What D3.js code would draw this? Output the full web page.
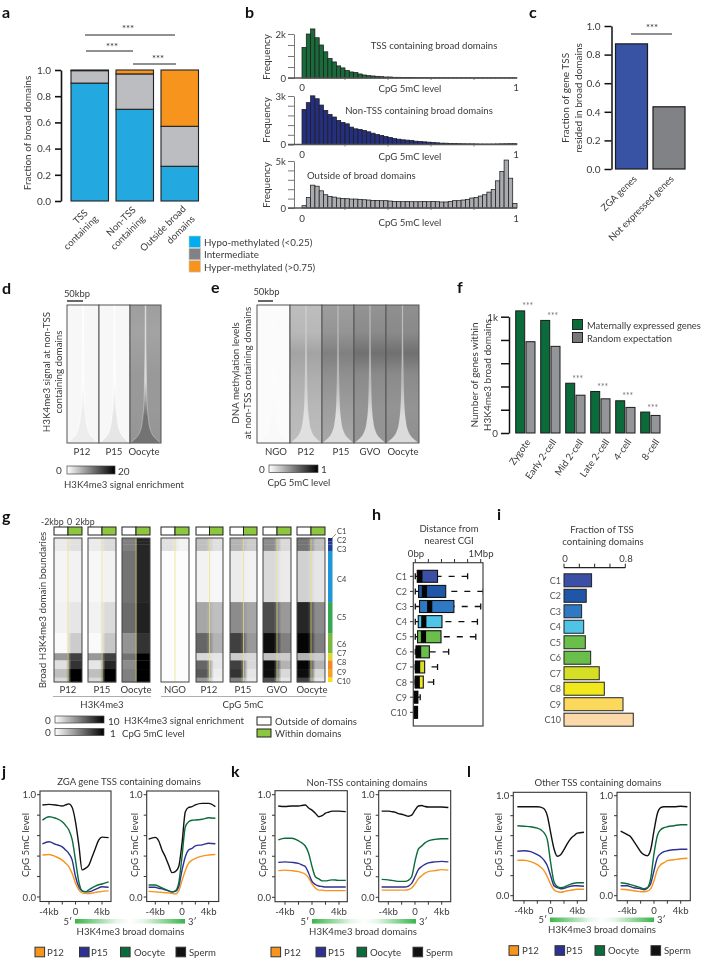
<!DOCTYPE html>
<html><head><meta charset="utf-8">
<script src="https://cdn.jsdelivr.net/npm/d3@7"></script>
<style>
html,body{margin:0;padding:0;background:#fff}
svg{display:block;filter:blur(0.4px)}
text{font-family:Lato,"Open Sans",sans-serif;font-size:10px;fill:#3a3a3a}
.letter{font-weight:700;font-size:16px;fill:#111}
</style></head><body>
<svg id="c" width="705" height="960"></svg>
<script>
// ---------- panel a
const aCategories=[["TSS","containing"],["Non-TSS","containing"],["Outside broad","domains"]];
const aHypo=[0.90,0.70,0.265];
const aInter=[0.095,0.27,0.305];
const aHyper=[0.005,0.03,0.43];
const aColors=["#24a8e0","#bcbdc0","#f7941e"];
const aLegend=["Hypo-methylated (<0.25)","Intermediate","Hyper-methylated (>0.75)"];
const aLegendColors=["#00aeef","#808285","#f7941e"];
// ---------- panel b
const histTss=[1390,2000,2230,1830,1500,1190,890,730,550,460,340,275,245,183,137,107,92,76,61,46,46,31,31,25,20,18,16,15,14,13,12,12,11,11,10,10,10,9,9,9,8,8,8,8,8,7,7,7,7,7];
const histNon=[2170,2590,3010,2830,2440,2110,1860,1700,1490,1365,1280,1075,970,930,870,785,700,620,560,495,435,370,330,290,270,250,205,185,165,145,125,105,85,80,65,60,50,45,40,40,35,30,30,30,30,35,40,45,50,50];
const histOut=[250,1130,2430,2320,1830,1410,1230,1160,1060,1020,990,950,950,920,880,850,810,810,780,780,740,700,700,670,700,670,670,670,700,670,700,670,640,640,700,780,780,850,920,1060,1130,1270,1410,1690,1970,2890,3870,5100,3170,490];
// ---------- panel c
const cCategories=["ZGA genes","Not expressed genes"];
const cValues=[0.875,0.435];
const cColors=["#3953a4","#808285"];
// ---------- panel f
const fCategories=["Zygote","Early 2-cell","Mid 2-cell","Late 2-cell","4-cell","8-cell"];
const fMaternal=[1050,968,428,357,277,180];
const fRandom=[785,745,325,294,220,151];
// ---------- panels d, e: heat summaries (row fraction, tail half width, greys)
const tailRows=[0,0.3,0.55,0.7,0.78,0.84,0.9,0.96,0.985,1];
const tailWidth=[0.015,0.018,0.035,0.05,0.07,0.1,0.15,0.29,0.41,0.49];
const bgRows=[0,0.2,0.35,0.5,0.75,1];
const dNames=["P12","P15","Oocyte"];
const dBackground=[[.03,.03,.03,.03,.03,.03],[.03,.03,.03,.03,.03,.03],[.38,.36,.38,.4,.4,.42]];
const dTailTop=[.01,.01,.14];
const dTailBottom=[.07,.1,.55];
const eNames=["NGO","P12","P15","GVO","Oocyte"];
const eBackground=[[.015,.015,.015,.015,.015,.015],[.26,.28,.36,.32,.28,.26],[.38,.42,.5,.44,.38,.34],[.42,.46,.56,.46,.42,.42],[.44,.46,.56,.46,.42,.44]];
const eTailTop=[.012,.2,.28,.28,.28];
const eTailBottom=[.025,.12,.13,.14,.14];
// ---------- panel g
const gClusters=["C1","C2","C3","C4","C5","C6","C7","C8","C9","C10"];
const gClusterEnds=[0.025,0.045,0.09,0.445,0.66,0.80,0.85,0.91,0.97,1];
const gSideColors=["#1c2a78","#1f3a96","#20409c","#1e96d8","#35a853","#7cb83e","#d8d830","#f08a28","#f6a028","#f0e020"];
const gNames=["P12","P15","Oocyte","NGO","P12","P15","GVO","Oocyte"];
const gLeft=[
 [.08,.08,.08,.04,.05,.02,.4,.12,.25,.15],
 [.08,.08,.08,.03,.05,.02,.4,.1,.25,.15],
 [.5,.5,.5,.55,.58,.42,.55,.45,.5,.5],
 [.12,.12,.12,.01,.01,.01,.01,.01,.01,.01],
 [.25,.25,.25,.05,.35,.6,.15,.6,.65,.4],
 [.3,.3,.3,.08,.45,.75,.2,.75,.8,.5],
 [.45,.45,.45,.15,.7,.95,.25,.95,.95,.7],
 [.55,.55,.55,.18,.85,.98,.3,.98,.95,.75]];
const gRight=[
 [.12,.12,.12,.05,.1,.2,.75,.8,1,1],
 [.14,.14,.14,.05,.14,.22,.75,.85,1,1],
 [.85,.85,.85,.85,.87,.8,1,1,1,1],
 [.05,.05,.05,.01,.01,.01,.01,.01,.01,.01],
 [.12,.12,.12,.03,.25,.3,.1,.1,.07,.05],
 [.2,.2,.2,.05,.35,.4,.15,.15,.1,.08],
 [.15,.15,.15,.08,.4,.5,.2,.3,.15,.1],
 [.25,.25,.25,.1,.45,.5,.2,.3,.15,.1]];
const cColorsBars=["#3b4fa5","#1f56a8","#2f78c4","#4fc4e6","#6abf4b","#6abf4b","#d6de26","#f0e81c","#fcd95c","#fcd9a8"];
// ---------- panel h (kbp)
const hQ1=[30,50,65,45,35,10,0,0,-30,-30];
const hMedian=[70,140,220,130,125,50,35,30,0,0];
const hQ3=[340,465,590,408,393,215,143,122,40,35];
const hHigh=[800,1040,1000,950,925,510,340,280,75,35];
// ---------- panel i
const iValues=[0.36,0.29,0.23,0.257,0.278,0.348,0.46,0.526,0.77,0.904];
// ---------- panels j, k, l
const gridL=[-5,-4,-3,-2,-1.5,-1,-.5,0,.5,1,1.5,2,2.5,3,3.5,4,5];
const gridR=[-5,-4,-3.5,-3,-2.5,-2,-1.5,-1,-.5,0,.5,1,1.5,2,3,4,5];
const seriesNames=["P12","P15","Oocyte","Sperm"];
const seriesColors=["#f7941e","#2e3192","#0b6b3a","#111111"];
const jLP12=[.41,.415,.395,.36,.33,.295,.23,.135,.07,.04,.035,.033,.038,.045,.05,.055,.06];
const jLP15=[.52,.54,.515,.49,.46,.425,.36,.2,.1,.06,.052,.05,.06,.075,.09,.1,.095];
const jLOoc=[.75,.785,.77,.735,.7,.655,.56,.36,.15,.06,.05,.07,.09,.107,.12,.127,.147];
const jLSpe=[.90,.905,.9,.89,.9,.91,.875,.735,.51,.265,.28,.31,.39,.475,.555,.585,.58];
const jRP12=[.055,.05,.048,.045,.042,.04,.035,.03,.06,.16,.26,.33,.36,.378,.4,.41,.415];
const jRP15=[.095,.095,.085,.08,.07,.06,.05,.055,.1,.26,.394,.46,.475,.5,.51,.525,.52];
const jROoc=[.117,.117,.105,.09,.075,.06,.05,.06,.133,.394,.687,.736,.75,.752,.76,.775,.77];
const jRSpe=[.565,.583,.55,.46,.394,.313,.238,.248,.296,.524,.834,.876,.883,.9,.915,.915,.883];
const kLP12=[.26,.265,.26,.25,.24,.225,.19,.13,.09,.07,.07,.065,.065,.065,.065,.065,.065];
const kLP15=[.34,.345,.34,.33,.315,.3,.235,.155,.125,.11,.105,.1,.1,.1,.1,.1,.1];
const kLOoc=[.56,.575,.575,.55,.53,.5,.43,.3,.2,.18,.16,.16,.165,.17,.168,.165,.165];
const kLSpe=[.89,.885,.89,.89,.895,.9,.87,.85,.82,.785,.795,.82,.83,.84,.84,.84,.835];
const kRP12=[.07,.07,.07,.07,.07,.07,.07,.075,.09,.13,.18,.21,.235,.25,.26,.27,.265];
const kRP15=[.1,.1,.1,.1,.1,.1,.1,.11,.135,.2,.27,.3,.32,.335,.345,.35,.345];
const kROoc=[.175,.17,.165,.16,.155,.155,.155,.165,.2,.35,.47,.5,.53,.55,.565,.57,.57];
const kRSpe=[.84,.84,.835,.83,.815,.81,.8,.79,.8,.85,.89,.895,.885,.88,.88,.88,.875];
const lLP12=[.355,.355,.34,.31,.285,.25,.19,.115,.06,.04,.035,.04,.05,.055,.06,.065,.065];
const lLP15=[.445,.45,.44,.41,.39,.355,.3,.2,.1,.08,.07,.075,.085,.095,.1,.1,.095];
const lLOoc=[.7,.695,.69,.675,.66,.63,.56,.33,.14,.09,.08,.085,.1,.115,.125,.13,.13];
const lLSpe=[.89,.89,.89,.89,.885,.87,.8,.63,.47,.395,.41,.46,.52,.57,.6,.625,.635];
const lRP12=[.065,.06,.055,.05,.045,.04,.04,.045,.07,.15,.26,.31,.33,.35,.36,.37,.375];
const lRP15=[.1,.1,.09,.08,.075,.07,.06,.075,.12,.25,.38,.42,.44,.45,.46,.465,.465];
const lROoc=[.13,.12,.11,.1,.09,.08,.07,.08,.17,.42,.6,.66,.68,.69,.7,.71,.71];
const lRSpe=[.645,.61,.59,.54,.49,.44,.41,.4,.46,.65,.82,.88,.89,.89,.89,.895,.89];

const svg=d3.select("#c");
const defs=svg.append("defs");
const ink="#222";
const FS=1.0;
const grey=d3.scaleLinear().domain([0,1]).range(["#ffffff","#000000"]);
function T(x,y,s,o={}){
  const t=svg.append("text").attr("x",x).attr("y",y).text(s)
   .attr("text-anchor",o.a||"start").attr("dominant-baseline","central");
  if(o.r!=null)t.attr("transform",`rotate(${o.r},${x},${y})`);
  if(o.s)t.style("font-size",(o.s*FS)+"px");
  if(o.c)t.style("fill",o.c);
  if(o.cls)t.attr("class",o.cls);
  if(o.ws)t.style("word-spacing",o.ws+"px");
  return t;
}
function L(x1,y1,x2,y2,w=1.3,c=ink,d){
  const l=svg.append("line").attr("x1",x1).attr("y1",y1).attr("x2",x2).attr("y2",y2).attr("stroke",c).attr("stroke-width",w);
  if(d)l.attr("stroke-dasharray",d);return l;
}
function R(x,y,w,h,f,s=ink,sw=1.1){
  return svg.append("rect").attr("x",x).attr("y",y).attr("width",w).attr("height",h).attr("fill",f).attr("stroke",s).attr("stroke-width",sw);
}
function axisLeft(x,scale,vals,fmt,size=5,w=1.4,c=ink){
  const g=svg.append("g").attr("transform",`translate(${x},0)`)
   .call(d3.axisLeft(scale).tickValues(vals).tickSize(size).tickSizeOuter(0).tickFormat(fmt||(()=>"")));
  g.selectAll("path").attr("stroke",c).attr("stroke-width",w);
  g.selectAll("line").attr("stroke",c).attr("stroke-width",w);
  g.selectAll("text").style("font-size","10px").attr("dx",-1);
  return g;
}
// panel letters
[["a",2,11],["b",245,11],["c",529,11],["d",2,287],["e",211,286],["f",457,286],["g",2,515],["h",372,513],["i",497,513],["j",2,770],["k",231,770],["l",467,770]]
 .forEach(d=>T(d[1],d[2],d[0],{cls:"letter"}));

function stars(x,y){T(x,y,"***",{a:"middle",s:9.5,c:"#333"})}

// ===== a
(function(){
 const y=d3.scaleLinear([0,1],[201,70]);
 const xb=i=>71+45*i;
 axisLeft(61,y,[0,.2,.4,.6,.8,1],d3.format(".1f"),6,1.6,"#111");
 aHypo.forEach((v,i)=>{
  let b=0;[aHypo[i],aInter[i],aHyper[i]].forEach((u,k)=>{
   R(xb(i),y(b+u),37.5,y(b)-y(b+u),aColors[k],"#222",1.1);b+=u;});
 });
 T(27,133,"Fraction of broad domains",{a:"middle",r:-90,s:10});
 const pos=[[86,211,96,217],[134,208,143,217],[184,207,193,217]];
 aCategories.forEach((c,i)=>{
  T(pos[i][0],pos[i][1],c[0],{a:"end",r:-45,s:9.6});
  T(pos[i][2],pos[i][3],c[1],{a:"end",r:-45,s:9.6});
 });
 L(85,35,175,35,1);L(86,51,133,51,1);L(133,64,176,64,1);
 stars(128,28);stars(112,46);stars(158,58);
 aLegend.forEach((s,i)=>{
  R(189,236+12.3*i,11.5,11.5,aLegendColors[i],"#ccc",.6);
  T(204,242+12.3*i,s,{s:9.8});
 });
})();

// ===== b
(function(){
 const x=d3.scaleLinear([0,1],[302,517]);
 const panels=[
  {d:histTss,y0:78,yT:34,m:2000,lab:"2k",f:"#1a6b3a",tx:434,ty:45,t:"TSS containing broad domains",a:"middle",zero:87,cy:88.5,fy:57,minor:[0,500,1000,1500,2000]},
  {d:histNon,y0:144.5,yT:96,m:3000,lab:"3k",f:"#24307f",tx:419,ty:110,t:"Non-TSS containing broad domains",a:"middle",zero:154,cy:156.5,fy:120,minor:[0,600,1200,1800,2400,3000]},
  {d:histOut,y0:208,yT:161,m:5000,lab:"5k",f:"#a9abae",tx:307,ty:175,t:"Outside of broad domains",a:"start",zero:218,cy:222.5,fy:185,minor:[0,1000,2000,3000,4000,5000]}];
 panels.forEach(p=>{
  const y=d3.scaleLinear([0,p.m],[p.y0,p.yT]);
  const bw=(x(1)-x(0))/50;
  svg.append("g").selectAll("rect").data(p.d).join("rect")
   .attr("x",(d,i)=>x(i/50)).attr("width",bw).attr("y",d=>y(d)).attr("height",d=>p.y0-y(d))
   .attr("fill",p.f).attr("stroke","#1c1c1c").attr("stroke-width",.75);
  axisLeft(294,y,p.minor,null,6,1,"#777");
  L(288,p.y0,517,p.y0,1.4,"#555");
  [.2,.4,.6,.8].forEach(v=>L(x(v),p.y0,x(v),p.y0+2,.8,"#666"));
  T(286,p.yT,p.lab,{a:"end",s:9.6});
  T(286,p.y0,"0",{a:"end",s:9.6});
  T(266,p.fy,"Frequency",{a:"middle",r:-90,s:10});
  T(302,p.zero,"0",{a:"middle",s:9.8});T(516,p.zero,"1",{a:"middle",s:9.8});
  T(410,p.cy,"CpG 5mC level",{a:"middle",s:9.6});
  T(p.tx,p.ty,p.t,{a:p.a,s:9.6});
 });
})();

// ===== c
(function(){
 const y=d3.scaleLinear([0,1],[169,26]);
 axisLeft(611.5,y,[0,.2,.4,.6,.8,1],d3.format(".1f"),7,1.5,"#111");
 const xs=[615.5,653];
 cValues.forEach((v,i)=>R(xs[i],y(v),32,169-y(v),cColors[i],"#1b1b1b",1.2));
 T(565,98,"Fraction of gene TSS",{a:"middle",r:-90,s:10});
 T(578,98,"resided in broad domains",{a:"middle",r:-90,s:10});
 T(635,177,cCategories[0],{a:"end",r:-45,s:9.6});
 T(672,177,cCategories[1],{a:"end",r:-45,s:9.6});
 L(631,34,672,34,1);stars(652,27);
})();

// ===== heat panels d, e
function heatCol(x0,x1,y0,y1,bg,tTop,tBot,id,edge,edgeOp){
 const h=y1-y0,w=x1-x0,cx=(x0+x1)/2;
 const gid="hbg"+id,tid="ht"+id;
 const g=defs.append("linearGradient").attr("id",gid).attr("x1",0).attr("x2",0).attr("y1",0).attr("y2",1);
 bgRows.forEach((f,i)=>g.append("stop").attr("offset",f).attr("stop-color",grey(bg[i])));
 const t=defs.append("linearGradient").attr("id",tid).attr("x1",0).attr("x2",0).attr("y1",0).attr("y2",1);
 t.append("stop").attr("offset",0).attr("stop-color",grey(tTop));
 t.append("stop").attr("offset",.55).attr("stop-color",grey(tTop));
 t.append("stop").attr("offset",.8).attr("stop-color",grey(tBot));
 t.append("stop").attr("offset",1).attr("stop-color",grey(tBot));
 svg.append("rect").attr("x",x0).attr("y",y0).attr("width",w).attr("height",h).attr("fill",`url(#${gid})`);
 const yy=d3.scaleLinear([0,1],[y0,y1]);
 const ww=d3.scaleLinear([0,1],[0,w]);
 const pts=tailRows.map((r,i)=>[r,tailWidth[i]]);
 const area=d3.area().x0(d=>cx-ww(d[1])).x1(d=>cx+ww(d[1])).y(d=>yy(d[0])).curve(d3.curveMonotoneY);
 svg.append("path").attr("d",area(pts)).attr("fill",`url(#${tid})`).attr("stroke",edge).attr("stroke-width",.7).attr("stroke-opacity",edgeOp);
 svg.append("rect").attr("x",x0).attr("y",y0).attr("width",w).attr("height",h).attr("fill","none").attr("stroke","#555").attr("stroke-width",1);
}
(function(){
 const xs=[67,99,130,161];
 dNames.forEach((n,i)=>heatCol(xs[i],xs[i+1],305,443,dBackground[i],dTailTop[i],dTailBottom[i],"d"+i,i==2?"#dddddd":"#ffffff",i==2?.6:.8));
 [82,114,144].forEach((x,i)=>T(x,451.5,dNames[i],{a:"middle",s:9.6}));
 T(77,293,"50kbp",{a:"middle",s:9.4});L(67,301,83,301,1.5,"#333");
 T(46,372,"H3K4me3 signal at non-TSS",{a:"middle",r:-90,s:9.8});
 T(58,372,"containing domains",{a:"middle",r:-90,s:9.8});
 const xs2=[257,290,322,354,386,419];
 eNames.forEach((n,i)=>heatCol(xs2[i],xs2[i+1],305,443,eBackground[i],eTailTop[i],eTailBottom[i],"e"+i,"#ffffff",.1));
 [276,306,341,370,403].forEach((x,i)=>T(x,451.5,eNames[i],{a:"middle",s:9.6}));
 T(266.5,291,"50kbp",{a:"middle",s:9.4});L(258,301,273,301,1.5,"#333");
 T(235,373,"DNA methylation levels",{a:"middle",r:-90,s:9.8});
 T(247,373,"at non-TSS containing domains",{a:"middle",r:-90,s:9.8});
})();
const cb=defs.append("linearGradient").attr("id","cbar");
cb.append("stop").attr("offset",0).attr("stop-color","#fff");cb.append("stop").attr("offset",1).attr("stop-color","#000");
R(67,466,48,8,"url(#cbar)","#444",.7);T(59,470,"0",{a:"middle",s:10});T(118,471,"20",{s:10});
T(124,484.5,"H3K4me3 signal enrichment",{a:"middle",s:9.6});
R(269,465,49,7.5,"url(#cbar)","#444",.7);T(262,468.5,"0",{a:"middle",s:10});T(321,469,"1",{s:10});
T(299,482.5,"CpG 5mC level",{a:"middle",s:9.6});

// ===== f
(function(){
 const y=d3.scaleLinear([0,1000],[433,316.7]);
 axisLeft(509,y,[0,200,400,600,800,1000],null,8,1.5,"#111");
 T(498,316.7,"1k",{a:"end",s:9.8});T(498,433,"0",{a:"end",s:9.8});
 const x=d3.scaleBand().domain(fCategories).range([515.7,665.7]);
 const labX=[528,554,581,607,629,657];
 fCategories.forEach((c,i)=>{
  const x0=x(c);
  R(x0,y(fMaternal[i]),9,433-y(fMaternal[i]),"#0b6b3a","#1c1c1c",1);
  R(x0+10.3,y(fRandom[i]),9,433-y(fRandom[i]),"#939598","#1c1c1c",1);
  T(x0+12,y(fMaternal[i])-4.5,"***",{a:"middle",s:8.5,c:"#777"});
  T(labX[i],440,c,{a:"end",r:-55,s:9.6});
 });
 T(474,375,"Number of genes within",{a:"middle",r:-90,s:10});
 T(487,375,"H3K4me3 broad domains",{a:"middle",r:-90,s:10});
 R(572.5,319.5,10,10,"#0b6b3a","#222",1);R(572.5,332.5,10,10,"#77787b","#222",1);
 T(587,325,"Maternally expressed genes",{s:9.4});T(587,338,"Random expectation",{s:9.4});
})();

// ===== g
(function(){
 const cols=[[54,82],[88,116],[122,150],[161,189],[196,223],[230,257],[263,291],[297,325]];
 const stopA=[.44,.44,.47,.38,.38,.38,.38,.38],stopB=[.62,.62,.55,.66,.66,.66,.66,.66];
 const yy=d3.scaleLinear([0,1],[538,682]);
 cols.forEach((c,i)=>{
  gClusters.forEach((cl,k)=>{
   const a=k?gClusterEnds[k-1]:0,b=gClusterEnds[k];
   const id=`g${i}_${k}`;
   const gr=defs.append("linearGradient").attr("id",id);
   gr.append("stop").attr("offset",stopA[i]).attr("stop-color",grey(gLeft[i][k]));
   gr.append("stop").attr("offset",stopB[i]).attr("stop-color",grey(gRight[i][k]));
   svg.append("rect").attr("x",c[0]).attr("width",c[1]-c[0]).attr("y",yy(a)).attr("height",yy(b)-yy(a)+.3).attr("fill",`url(#${id})`);
  });
  const m=(c[0]+c[1])/2;
  L(m,538,m,682,.7,"#e9e27a");
  R(c[0],538,c[1]-c[0],144,"none","#444",1);
  R(c[0],527,(c[1]-c[0])/2,8,"#fff","#222",1);
  R(m,527,(c[1]-c[0])/2,8,"#8dc63f","#222",1);
 });
 gClusters.forEach((cl,k)=>{
  const a=k?gClusterEnds[k-1]:0,b=gClusterEnds[k];
  svg.append("rect").attr("x",328).attr("width",4.5).attr("y",yy(a)).attr("height",yy(b)-yy(a)).attr("fill",gSideColors[k]);
 });
 const labY=[531.5,540.5,549.5,579,617,644,653,662,672,681.5];
 gClusters.forEach((cl,k)=>T(337,labY[k],cl,{s:7.4}));
 L(332,538,336,534,.6,"#555");
 [68,102,136,175,209,243,277,312].forEach((x,i)=>T(x,689.5,gNames[i],{a:"middle",s:9.6}));
 T(41,521.5,"-2kbp 0 2kbp",{s:8.8,ws:1});
 T(42,610,"Broad H3K4me3 domain boundaries",{a:"middle",r:-90,s:9.8});
 L(53,696.5,151,696.5,.8,"#999");L(161,696.5,326,696.5,.8,"#999");
 T(102,704.5,"H3K4me3",{a:"middle",s:9.6});T(243,704.5,"CpG 5mC",{a:"middle",s:9.6});
 R(55,716,49,7,"url(#cbar)","#444",.7);R(55,728.5,49,7,"url(#cbar)","#444",.7);
 T(48,720,"0",{a:"middle",s:10});T(48,732,"0",{a:"middle",s:10});
 T(108,720.5,"10",{s:10});T(110,733,"1",{s:10});
 T(124,720.5,"H3K4me3 signal enrichment",{s:9.6});T(122,733,"CpG 5mC level",{s:9.6});
 R(257,717,14,8,"#fff","#222",1);R(257,729,14,8,"#8dc63f","#222",1);
 T(275,721,"Outside of domains",{s:9.6});T(275,733,"Within domains",{s:9.6});
})();

// ===== h
(function(){
 const x=d3.scaleLinear([0,1000],[415.3,480.7]);
 const y=d3.scalePoint().domain(gClusters).range([576.3,712.3]);
 const clip=defs.append("clipPath").attr("id","hclip");
 clip.append("rect").attr("x",413.3).attr("y",562.7).attr("width",69.7).attr("height",163.3);
 const g=svg.append("g").attr("clip-path","url(#hclip)");
 gClusters.forEach((c,i)=>{
  const yc=y(c);
  if(hHigh[i]>hQ3[i]){
   g.append("line").attr("x1",x(hHigh[i])).attr("x2",x(hQ3[i])).attr("y1",yc).attr("y2",yc).attr("stroke","#111").attr("stroke-width",1.3).attr("stroke-dasharray","6,7");
   g.append("line").attr("x1",x(hHigh[i])).attr("x2",x(hHigh[i])).attr("y1",yc-3).attr("y2",yc+3).attr("stroke","#111").attr("stroke-width",1.3);
  }
  g.append("line").attr("x1",x(0)).attr("x2",x(hQ1[i])).attr("y1",yc).attr("y2",yc).attr("stroke","#111").attr("stroke-width",1.3);
  g.append("line").attr("x1",x(0)).attr("x2",x(0)).attr("y1",yc-3).attr("y2",yc+3).attr("stroke","#111").attr("stroke-width",1.3);
  g.append("rect").attr("x",x(hQ1[i])).attr("width",x(hQ3[i])-x(hQ1[i])).attr("y",yc-6).attr("height",12).attr("fill",i>7?"#000":cColorsBars[i]).attr("stroke","#111").attr("stroke-width",1.1);
  g.append("rect").attr("x",x(hMedian[i])-2.6).attr("width",5.2).attr("y",yc-6).attr("height",12).attr("fill","#050505");
  T(407,yc,c,{a:"end",s:9,c:"#555"});
  L(410,yc,413.3,yc,1,"#333");
 });
 R(413.3,562.7,69.7,163.3,"none","#444",1.2);
 [0,200,400,600,800,1000].forEach(v=>L(x(v),559,x(v),562.7,1,"#333"));
 T(449,528,"Distance from",{a:"middle",s:9.6});T(449,540,"nearest CGI",{a:"middle",s:9.6});
 T(416,553.5,"0bp",{a:"middle",s:9.6});T(481,553.5,"1Mbp",{a:"middle",s:9.6});
})();

// ===== i
(function(){
 const x=d3.scaleLinear([0,.8],[564,625.3]);
 const y=d3.scalePoint().domain(gClusters).range([580.3,719.7]);
 gClusters.forEach((c,i)=>{
  R(x(0),y(c)-6.5,x(iValues[i])-x(0),13,cColorsBars[i],"#222",1);
  T(561,y(c),c,{a:"end",s:9,c:"#555"});
 });
 L(564,567.7,625.3,567.7,1.3,"#222");
 [0,.2,.4,.6,.8].forEach(v=>L(x(v),563.7,x(v),567.7,1,"#222"));
 T(602,529.5,"Fraction of TSS",{a:"middle",s:9.6});T(603,541.5,"containing domains",{a:"middle",s:9.6});
 T(565,558,"0",{a:"middle",s:9.6});T(626,558,"0.8",{a:"middle",s:9.6});
})();

// ===== j k l
const fade=defs.append("linearGradient").attr("id","fade");
[[0,1],[.38,.12],[.5,0],[.62,.12],[1,1]].forEach(s=>fade.append("stop").attr("offset",s[0]).attr("stop-color","#39b54a").attr("stop-opacity",s[1]));
function profile(f,grid,sets,labX){
 const x=d3.scaleLinear([-4,4],[f.xm,f.xp]);
 const y=d3.scaleLinear([0,1],[f.y0,f.y1]);
 const line=d3.line().x((d,i)=>x(grid[i])).y(d=>y(d)).curve(d3.curveMonotoneX);
 sets.forEach((s,i)=>svg.append("path").attr("d",line(s)).attr("fill","none").attr("stroke",seriesColors[i]).attr("stroke-width",1.4));
 R(f.x0,f.yT,f.x1-f.x0,f.yB-f.yT,"none","#333",1.1);
 [-4,-2,0,2,4].forEach(v=>L(x(v),f.yB,x(v),f.yB+3,1,"#333"));
 [0,.2,.4,.6,.8,1].forEach(v=>L(f.x0-3,y(v),f.x0,y(v),1,"#333"));
 T(x(-4),f.lab,"-4kb",{a:"middle",s:9.6});T(x(0),f.lab,"0",{a:"middle",s:9.6});T(x(4),f.lab,"4kb",{a:"middle",s:9.6});
 T(f.x0-4,y(1),"1.0",{a:"end",s:9.6});T(f.x0-4,y(0),"0.0",{a:"end",s:9.6});
 T(labX,845,"CpG 5mC level",{a:"middle",r:-90,s:9.8});
}
function groupFooter(o){
 T(o.tc,o.ty,o.title,{a:"middle",s:9.6});
 svg.append("rect").attr("x",o.g0).attr("y",o.gy).attr("width",o.g1-o.g0).attr("height",4.6).attr("fill","url(#fade)");
 T(o.g0-3,o.gy+2,"5′",{a:"end",s:9.4});T(o.g1+3,o.gy+2,"3′",{s:9.4});
 T(o.lc,o.ly,"H3K4me3 broad domains",{a:"middle",s:9.6});
 seriesNames.forEach((n,i)=>{
  R(o.sq[i],o.leg-4.8,9.6,9.6,seriesColors[i],"#333",1);
  T(o.txt[i],o.leg,n,{s:9.6});
 });
}
const fJL={x0:40,x1:111,yT:791,yB:901.5,xm:49,xp:102,y1:794.7,y0:897,lab:911.5};
const fJR={x0:146.7,x1:218.7,yT:791,yB:901.5,xm:155.3,xp:208.7,y1:794.7,y0:897,lab:911.5};
const fKL={x0:275,x1:347.3,yT:790.7,yB:901.7,xm:285,xp:339,y1:794.7,y0:897.3,lab:911.5};
const fKR={x0:378.7,x1:450.7,yT:790.7,yB:901.7,xm:388.3,xp:441.7,y1:794.7,y0:897.3,lab:911.5};
const fLL={x0:513.3,x1:586.7,yT:792.3,yB:900.7,xm:524,xp:577.3,y1:795.7,y0:895.7,lab:910.5};
const fLR={x0:617,x1:690.3,yT:792.3,yB:900.7,xm:627.3,xp:680.7,y1:795.7,y0:895.7,lab:910.5};
profile(fJL,gridL,[jLP12,jLP15,jLOoc,jLSpe],25);
profile(fJR,gridR,[jRP12,jRP15,jROoc,jRSpe],134);
profile(fKL,gridL,[kLP12,kLP15,kLOoc,kLSpe],262);
profile(fKR,gridR,[kRP12,kRP15,kROoc,kRSpe],367);
profile(fLL,gridL,[lLP12,lLP15,lLOoc,lLSpe],498);
profile(fLR,gridR,[lRP12,lRP15,lROoc,lRSpe],603);
groupFooter({title:"ZGA gene TSS containing domains",tc:129,ty:781,g0:75,g1:185,gy:919,lc:130.5,ly:931,leg:952,sq:[35,79.5,120.5,176],txt:[47,91,134,189]});
groupFooter({title:"Non-TSS containing domains",tc:367,ty:782,g0:312,g1:416,gy:919,lc:363,ly:931,leg:952,sq:[271,316,357,413],txt:[284,328,370,426]});
groupFooter({title:"Other TSS containing domains",tc:598,ty:782,g0:550,g1:654,gy:917.5,lc:602,ly:929.5,leg:950.5,sq:[509,555,595,651],txt:[522,566,608,664]});
</script>
</body></html>
